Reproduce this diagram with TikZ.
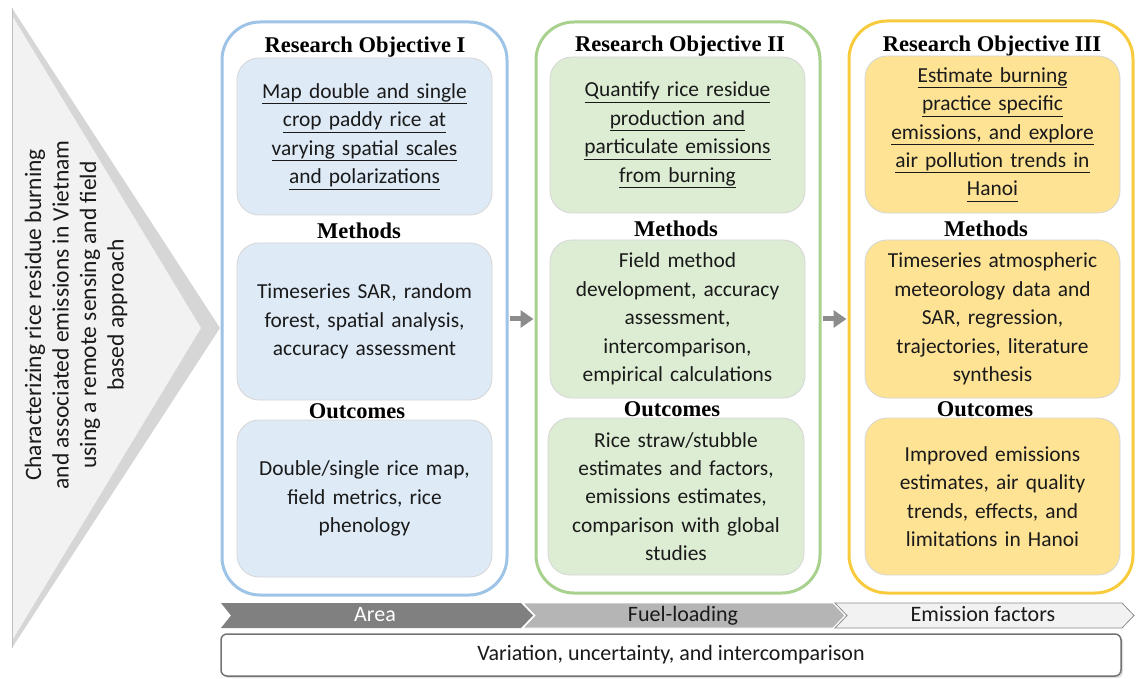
\documentclass[tikz,border=0pt]{standalone}
\usepackage{fontspec}
\setmainfont{Carlito}
\newfontfamily\headfont{Liberation Serif}
\usetikzlibrary{arrows.meta}

\definecolor{blueedge}{HTML}{9DC3E6}
\definecolor{bluefill}{HTML}{DEEAF6}
\definecolor{greenedge}{HTML}{A9D18E}
\definecolor{greenfill}{HTML}{DDEDD3}
\definecolor{goldedge}{HTML}{F8CB3C}
\definecolor{goldfill}{HTML}{FEE395}
\definecolor{txt}{HTML}{1A1A1A}
\definecolor{bandout}{HTML}{D6D6D6}
\definecolor{bandin}{HTML}{F2F2F2}

\newcommand{\bodysize}{\fontsize{21.4}{28.4}\selectfont}
\newcommand{\ulline}[1]{\underline{\vphantom{gy}#1}}

\tikzset{
  column/.style={draw=#1, line width=3, rounded corners=38, fill=white},
  card/.style={fill=#1, draw=black!16, line width=0.8, rounded corners=22,
    align=center, text width=252, font=\bodysize, text=txt, inner sep=0},
  heading/.style={font=\headfont\bfseries\fontsize{22.5}{25}\selectfont, text=black, inner sep=0},
  flow/.style={draw=black!45, line width=5, -{Triangle[width=17,length=13]},
    shorten <=1, shorten >=1},
  tag/.style={font=\fontsize{22}{24}\selectfont, inner sep=0, text height=15, text depth=4.5},
}

\begin{document}
\begin{tikzpicture}[x=1pt, y=-1pt]
\useasboundingbox (0,0) rectangle (1136,679);

% lead-in triangle with its shaded edge band
\fill[bandout] (12,8) -- (220,328) -- (12,648) -- cycle;
\fill[bandin] (13,17) -- (201,328) -- (13,639) -- cycle;
\draw[black!25, line width=0.8] (12,8) -- (12,648);
\node[rotate=90, align=center, font=\fontsize{23.5}{27.5}\selectfont, text=txt] (lead) at (76,315)
  {Characterizing rice residue burning\\and associated emissions in Vietnam\\
   using a remote sensing and field\\based approach};

% the three objective columns
\node[column=blueedge, minimum width=285, minimum height=573] (c1) at (364.5,308.5) {};
\node[column=greenedge, minimum width=284, minimum height=571] (c2) at (678,307.5) {};
\node[column=goldedge, minimum width=284, minimum height=572] (c3) at (991,307) {};

% column I
\node[heading] (h1) at (365,47) {Research Objective I};
\node[card=bluefill, minimum width=255, minimum height=157] (o1) at (364.5,136.5)
  {\ulline{Map double and single}\\\ulline{crop paddy rice at}\\\ulline{varying spatial scales}\\\ulline{and polarizations}};
\node[heading] (mh1) at (359,231) {Methods};
\node[card=bluefill, minimum width=255, minimum height=157] (m1) at (364.5,321.5)
  {Timeseries SAR, random\\forest, spatial analysis,\\accuracy assessment};
\node[heading] (oh1) at (357,411) {Outcomes};
\node[card=bluefill, minimum width=255, minimum height=157] (r1) at (364.5,498.5)
  {Double/single rice map,\\field metrics, rice\\phenology};

% column II
\node[heading] (h2) at (680,46) {Research Objective II};
\node[card=greenfill, minimum width=255, minimum height=156] (o2) at (677.5,135)
  {\ulline{Quantify rice residue}\\\ulline{production and}\\\ulline{particulate emissions}\\\ulline{from burning}};
\node[heading] (mh2) at (676,229) {Methods};
\node[card=greenfill, minimum width=255, minimum height=158] (m2) at (677.5,319)
  {Field method\\development, accuracy\\assessment,\\intercomparison,\\empirical calculations};
\node[heading] (oh2) at (672,409) {Outcomes};
\node[card=greenfill, minimum width=256, minimum height=157] (r2) at (676,496.5)
  {Rice straw/stubble\\estimates and factors,\\emissions estimates,\\comparison with global\\studies};

% column III
\node[heading] (h3) at (992,46) {Research Objective III};
\node[card=goldfill, minimum width=255, minimum height=157] (o3) at (992.5,134.5)
  {\ulline{Estimate burning}\\\ulline{practice specific}\\\ulline{emissions, and explore}\\\ulline{air pollution trends in}\\\ulline{Hanoi}};
\node[heading] (mh3) at (986,229) {Methods};
\node[card=goldfill, minimum width=255, minimum height=158] (m3) at (992.5,319)
  {Timeseries atmospheric\\meteorology data and\\SAR, regression,\\trajectories, literature\\synthesis};
\node[heading] (oh3) at (985,409) {Outcomes};
\node[card=goldfill, minimum width=255, minimum height=157] (r3) at (992.5,496.5)
  {Improved emissions\\estimates, air quality\\trends, effects, and\\limitations in Hanoi};

% links between the columns
\draw[flow] (c1.east |- m2.center) -- (c2.west |- m2.center);
\draw[flow] (c2.east |- m2.center) -- (c3.west |- m2.center);

% chevron band along the bottom
\fill[black!50] (221,603) -- (521,603) -- (533,615.5) -- (521,628) -- (221,628) -- (231,615.5) -- cycle;
\filldraw[fill=black!29, draw=white, line width=0.8] (523,603) -- (833,603) -- (845,615.5) -- (833,628) -- (523,628) -- (535,615.5) -- cycle;
\filldraw[fill=black!5, draw=black!45, line width=0.8] (835,603) -- (1122,603) -- (1134,615.5) -- (1122,628) -- (835,628) -- (847,615.5) -- cycle;
\node[tag, text=white] (area) at (375,616) {Area};
\node[tag, text=txt] (fuel) at (683,616) {Fuel-loading};
\node[tag, text=txt] (ef) at (983,616) {Emission factors};

% cross-cutting theme
\fill[black!12, rounded corners=6] (223,636) rectangle (1123,678);
\node[draw=black!55, line width=1.5, fill=white, rounded corners=6,
  minimum width=900, minimum height=42, font=\fontsize{22}{24}\selectfont, text=txt] (var) at (671,655)
  {Variation, uncertainty, and intercomparison};
\end{tikzpicture}
\end{document}
